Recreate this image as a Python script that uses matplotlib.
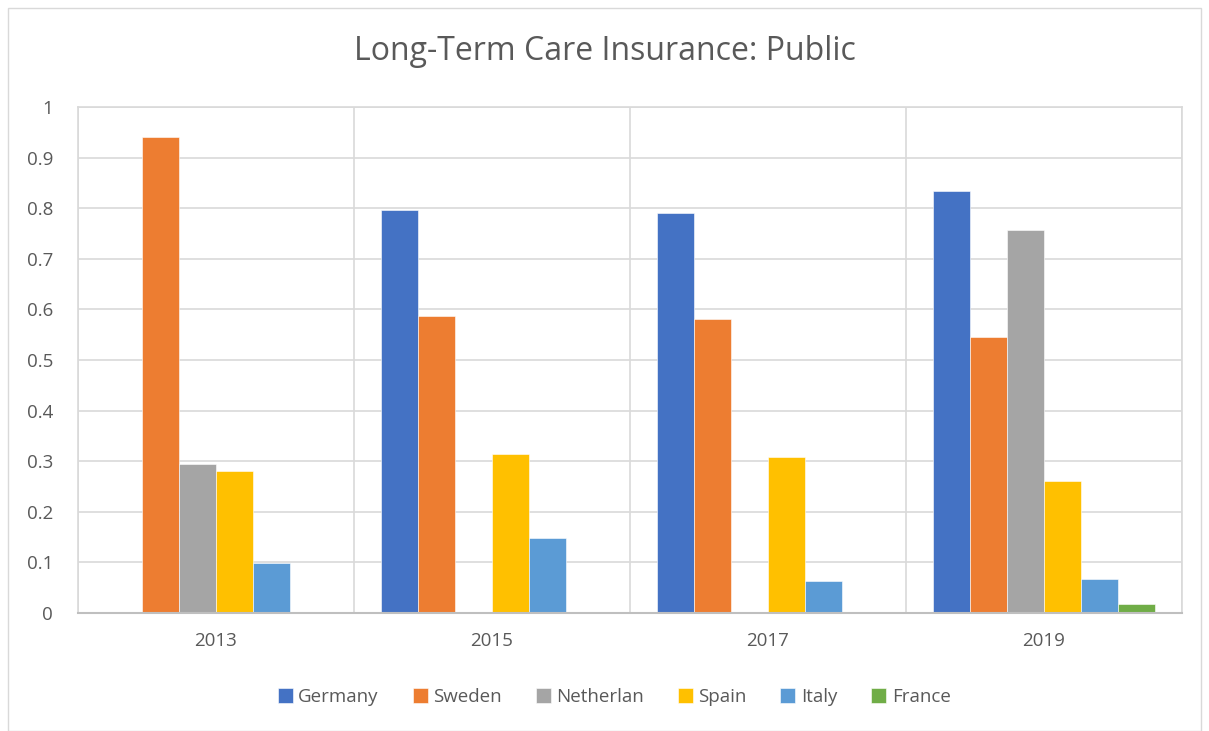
import matplotlib.pyplot as plt
import numpy as np
from matplotlib.patches import Rectangle

years = ['2013', '2015', '2017', '2019']
countries = ['Germany', 'Sweden', 'Netherlan', 'Spain', 'Italy', 'France']
colors = ['#4472C4', '#ED7D31', '#A5A5A5', '#FFC000', '#5B9BD5', '#70AD47']

# one list per country, values per year (0 where no bar)
germany = [0.0, 0.797, 0.790, 0.834]
sweden = [0.940, 0.587, 0.581, 0.545]
netherlands = [0.294, 0.0, 0.0, 0.756]
spain = [0.280, 0.314, 0.308, 0.260]
italy = [0.098, 0.148, 0.063, 0.068]
france = [0.0, 0.0, 0.0, 0.017]
series = [germany, sweden, netherlands, spain, italy, france]

plt.rcParams['font.family'] = ['Open Sans', 'DejaVu Sans']

fig = plt.figure(figsize=(12.09, 7.31), dpi=100)
ax = fig.add_axes([78 / 1209, 1 - 613 / 731, (1182 - 78) / 1209, (613 - 107) / 731])

# outer chart border
fig.patches.append(Rectangle((8 / 1209, 0), 1 - 16 / 1209, 1 - 8 / 731,
                             transform=fig.transFigure, fill=False,
                             edgecolor='#D9D9D9', linewidth=1))

x = np.arange(len(years))
width = 37 / 276
for i, (name, vals, c) in enumerate(zip(countries, series, colors)):
    ax.bar(x + (i - 2.5) * width, vals, width, color=c, label=name,
           edgecolor='white', linewidth=0.4)

ax.set_xlim(-0.5, len(years) - 0.5)
ax.set_ylim(0, 1)
ax.set_yticks(np.arange(0, 1.01, 0.1))
ax.set_yticklabels(['0', '0.1', '0.2', '0.3', '0.4', '0.5', '0.6', '0.7', '0.8', '0.9', '1'])
ax.set_xticks(x)
ax.set_xticklabels(years)
ax.set_xticks(np.arange(-0.5, len(years), 1), minor=True)

ax.grid(axis='y', which='major', color='#D9D9D9', linewidth=1.2)
ax.grid(axis='x', which='minor', color='#D9D9D9', linewidth=1.2)
ax.set_axisbelow(True)
for s in ['left', 'right', 'top']:
    ax.spines[s].set_color('#D9D9D9')
    ax.spines[s].set_linewidth(1.2)
ax.spines['bottom'].set_color('#BFBFBF')
ax.spines['bottom'].set_linewidth(1.5)

ax.tick_params(which='both', length=0, colors='#595959', labelsize=13.5)
ax.tick_params(axis='y', pad=18)
ax.tick_params(axis='x', pad=14)

fig.text(0.5, 1 - 51 / 731, 'Long-Term Care Insurance: Public', ha='center', va='center',
         fontsize=23, color='#595959')

fig.legend(loc='center', bbox_to_anchor=(0.508, 1 - 697 / 731), ncol=6, frameon=False,
           fontsize=13.5, labelcolor='#595959', handlelength=0.8, handleheight=0.8,
           handletextpad=0.3, columnspacing=1.8)

fig.savefig('out.png', dpi=100)
